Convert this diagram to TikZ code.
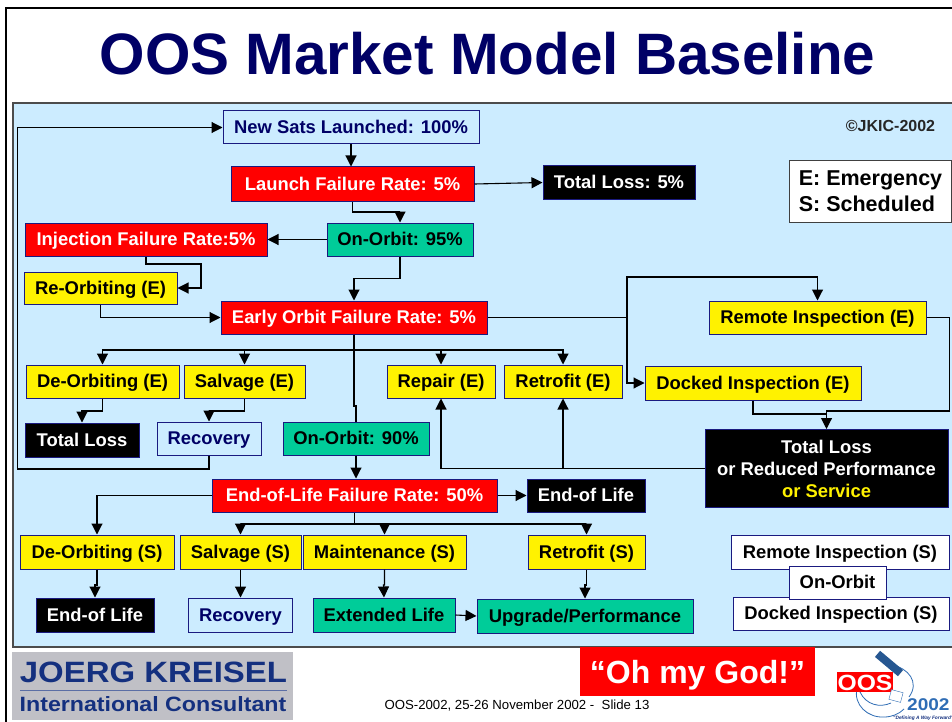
\documentclass[tikz,border=0pt]{standalone}
\usepackage{fontspec}
\usepackage{tikz}
\usetikzlibrary{arrows.meta,positioning}
\setmainfont{Liberation Sans}
\newfontfamily\widefont[FakeStretch=1.12]{Liberation Sans Bold}
\newcommand{\boxfont}{\fontsize{18.4}{22}\selectfont\bfseries}
\definecolor{panelblue}{HTML}{CCECFF}
\definecolor{titlenavy}{HTML}{000066}
\definecolor{edgenavy}{HTML}{1A1A80}
\definecolor{orbitgreen}{HTML}{00CC99}
\definecolor{logogray}{HTML}{C0C0C6}
\definecolor{logoblue}{HTML}{14307F}
\definecolor{oosblue}{HTML}{2F6DB5}
\tikzset{
  box/.style={draw=edgenavy,line width=1pt,inner sep=0pt,text height=15pt,text depth=3pt,font=\boxfont},
  failbox/.style={box,fill=red,text=white},
  actbox/.style={box,fill=yellow,text=black},
  orbbox/.style={box,fill=orbitgreen,text=black},
  lossbox/.style={box,fill=black,text=white},
  bluebox/.style={box,fill=panelblue,text=titlenavy},
  whitebox/.style={box,fill=white,text=black},
  flow/.style={line width=1.1pt,-{Triangle[length=11pt,width=11pt]}},
  link/.style={line width=1.1pt},
  orbit/.style={draw=oosblue,line width=0.8pt}
}

\begin{document}
\begin{tikzpicture}[x=1pt,y=-1pt]
  \useasboundingbox (0,0) rectangle (952,722);
  \fill[white] (0,0) rectangle (952,722);
  \draw[line width=2pt,black] (6,8) rectangle (970,740);
  \fill[panelblue,draw=black!70,line width=1.2pt] (13,103) rectangle (970,647);
  \node[font=\fontsize{58.4}{60}\selectfont\bfseries,text=titlenavy] (Title) at (487.5,54) {OOS Market Model Baseline};
  \node[font=\fontsize{16}{18}\selectfont\bfseries,text=black!85] (Copy) at (890.5,125.5) {©JKIC-2002};
  \node[box,text height=,text depth=,draw=black!75,fill=white,minimum width=162,minimum height=61,font=\fontsize{21.5}{26}\selectfont\bfseries,align=left] (Key) at (870.5,191.5) {E: Emergency\\S: Scheduled};

  \node[bluebox,minimum width=256,minimum height=33] (NS) at (351,127.5) {New Sats Launched: 100\%};
  \node[failbox,minimum width=243,minimum height=34] (LF) at (352.5,184) {Launch Failure Rate: 5\%};
  \node[lossbox,minimum width=152,minimum height=33] (TL5) at (619,182.5) {Total Loss: 5\%};
  \node[orbbox,minimum width=146,minimum height=33] (OO95) at (400,239.5) {On-Orbit: 95\%};
  \node[failbox,minimum width=242,minimum height=33] (IF) at (146,239.5) {Injection Failure Rate:5\%};
  \node[actbox,minimum width=153,minimum height=32] (RO) at (100.5,288) {Re-Orbiting (E)};
  \node[failbox,minimum width=266,minimum height=33] (EF) at (354,317.5) {Early Orbit Failure Rate: 5\%};
  \node[actbox,minimum width=217,minimum height=33] (RI) at (817.5,317.5) {Remote Inspection (E)};
  \node[actbox,minimum width=153,minimum height=33] (DE) at (102.5,381.5) {De-Orbiting (E)};
  \node[actbox,minimum width=121,minimum height=33] (SE) at (244.5,381.5) {Salvage (E)};
  \node[actbox,minimum width=108,minimum height=33] (RP) at (441,381.5) {Repair (E)};
  \node[actbox,minimum width=118,minimum height=33] (RF) at (563,381.5) {Retrofit (E)};
  \node[actbox,minimum width=216,minimum height=34] (DI) at (753,383) {Docked Inspection (E)};
  \node[lossbox,minimum width=114,minimum height=34] (TL) at (82,440) {Total Loss};
  \node[bluebox,minimum width=104,minimum height=33] (RE) at (209,438.5) {Recovery};
  \node[orbbox,minimum width=146,minimum height=33] (OO90) at (356,438.5) {On-Orbit: 90\%};
  \node[lossbox,text height=,text depth=,align=center,minimum width=243,minimum height=78] (TB) at (826.5,468.5) {Total Loss\\or Reduced Performance\\\textcolor{yellow}{or Service}};
  \node[failbox,minimum width=285,minimum height=33] (EL) at (354.5,495.5) {End-of-Life Failure Rate: 50\%};
  \node[lossbox,minimum width=118,minimum height=33] (EE) at (586,495.5) {End-of Life};
  \node[actbox,minimum width=154,minimum height=34] (DS) at (97,552) {De-Orbiting (S)};
  \node[actbox,minimum width=121,minimum height=34] (SS) at (240.5,552) {Salvage (S)};
  \node[actbox,minimum width=163,minimum height=34] (MS) at (384.5,552) {Maintenance (S)};
  \node[actbox,minimum width=117,minimum height=34] (RS) at (586.5,552) {Retrofit (S)};
  \node[lossbox,minimum width=118,minimum height=34] (ES) at (95,615) {End-of Life};
  \node[bluebox,minimum width=104,minimum height=34] (RC) at (240.5,615) {Recovery};
  \node[orbbox,minimum width=142,minimum height=34] (XL) at (384,615) {Extended Life};
  \node[orbbox,minimum width=216,minimum height=34] (UP) at (585,616) {Upgrade/Performance};
  \node[whitebox,minimum width=218,minimum height=34] (RIS) at (840,552) {Remote Inspection (S)};
  \node[whitebox,minimum width=216,minimum height=33] (DIS) at (841,613.5) {Docked Inspection (S)};
  \node[whitebox,minimum width=97,minimum height=33] (OOS) at (837.5,582.5) {On-Orbit};

  \coordinate (Lp) at (17.5,469);
  \coordinate (C1) at (400,212);
  \coordinate (C2) at (201,264);
  \coordinate (C3) at (354,278.5);
  \coordinate (C4) at (627,317.5);
  \coordinate (C5) at (817.5,277);
  \coordinate (C6) at (949.5,411);
  \coordinate (C7) at (826.5,414);
  \coordinate (C8) at (563,468.5);
  \coordinate (C9) at (356,406);
  \coordinate (BE) at (354,350);
  \coordinate (BS) at (354.5,524);
  \coordinate (J1) at (82,411);
  \coordinate (J2) at (209,411);
  \coordinate (J3) at (95,585);
  \coordinate (J4) at (383.5,585);
  \coordinate (J5) at (585,585);

  \draw[flow] (RE.south) |- (Lp) |- (NS.west);
  \draw[flow] (NS.south) -- (NS.south |- LF.north);
  \draw[flow] (LF.east) -- (TL5.west);
  \draw[flow] (LF.south) |- (C1) -- (OO95.north);
  \draw[flow] (OO95.west) -- (IF.east);
  \draw[flow] (IF.south) |- (C2) |- (RO.east);
  \draw[flow] (OO95.south) |- (C3) -- (EF.north);
  \draw[flow] (RO.south) |- (EF.west);
  \draw[link] (EF.east) -- (C4);
  \draw[flow] (C4) |- (C5) -- (RI.north);
  \draw[flow] (C4) |- (DI.west);
  \draw[link] (EF.south) |- (C9) -- (OO90.north);
  \draw[flow] (EF.south) -- (BE) -| (DE.north);
  \draw[flow] (BE) -| (SE.north);
  \draw[flow] (BE) -| (RP.north);
  \draw[flow] (BE) -| (RF.north);
  \draw[flow] (DE.south) |- (J1) -- (TL.north);
  \draw[flow] (SE.south) |- (J2) -- (RE.north);
  \draw[flow] (RI.east) -| (C6) -| (TB.north);
  \draw[link] (DI.south) |- (C7);
  \draw[flow] (TB.west) -| (RP.south);
  \draw[flow] (C8) -- (RF.south);
  \draw[flow] (OO90.south) -- (OO90.south |- EL.north);
  \draw[flow] (EL.west) -| (DS.north);
  \draw[flow] (EL.east) -- (EE.west);
  \draw[flow] (EL.south) -- (BS) -| (SS.north);
  \draw[flow] (BS) -| (MS.north);
  \draw[flow] (BS) -| (RS.north);
  \draw[flow] (DS.south) |- (J3) -- (ES.north);
  \draw[flow] (SS.south) -- (RC.north);
  \draw[flow] (MS.south) |- (J4) -- (XL.north);
  \draw[flow] (RS.south) |- (J5) -- (UP.north);
  \draw[flow] (XL.east) -- (UP.west);

  \fill[logogray] (12,652) rectangle (293,720);
  \node[font=\widefont\fontsize{29.4}{30}\selectfont,text=logoblue] (Joerg) at (153.5,672) {JOERG KREISEL};
  \draw[logoblue!70,line width=1pt] (20,690) -- (287,690);
  \node[font=\widefont\fontsize{20.7}{22}\selectfont,text=logoblue] (Consult) at (153,704) {International Consultant};
  \node[fill=red,text=white,minimum width=235,minimum height=49,inner sep=0pt,text height=28pt,text depth=5pt,font=\fontsize{32}{34}\selectfont\bfseries] (God) at (697.5,671.5) {“Oh my God!”};
  \node[font=\fontsize{13.2}{15}\selectfont,text=black] (Foot) at (517,706) {OOS-2002, 25-26 November 2002 -\ \ Slide 13};

  \draw[orbit] (892,665) .. controls (908,668) and (920,682) .. (909,697);
  \draw[orbit] (857,688) .. controls (853,705) and (868,718) .. (884,717) .. controls (892,717) and (899,714) .. (904,709);
  \draw[orbit] (860,692) .. controls (866,705) and (880,708) .. (891,703);
  \node[fill=oosblue!80!black,minimum width=30,minimum height=8,inner sep=0pt,rotate=-40] (Sat) at (889,663.5) {};
  \node[fill=red,text=white,minimum width=56,minimum height=20,inner sep=0pt,text height=17pt,text depth=0pt,font=\widefont\fontsize{22}{24}\selectfont] (OOSa) at (865,682) {OOS};
  \node[draw=oosblue,fill=white,minimum width=12,minimum height=10,inner sep=0pt,rotate=-15] (Ant) at (896,696) {};
  \node[anchor=west,inner sep=0pt,font=\widefont\fontsize{17}{18}\selectfont,text=oosblue] (Yr) at (907,705) {2002};
  \node[anchor=west,inner sep=0pt,font=\fontsize{4.8}{6}\selectfont\bfseries\itshape,text=logoblue] (Tag) at (893,718) {"Defining A Way Forward"};
\end{tikzpicture}
\end{document}
